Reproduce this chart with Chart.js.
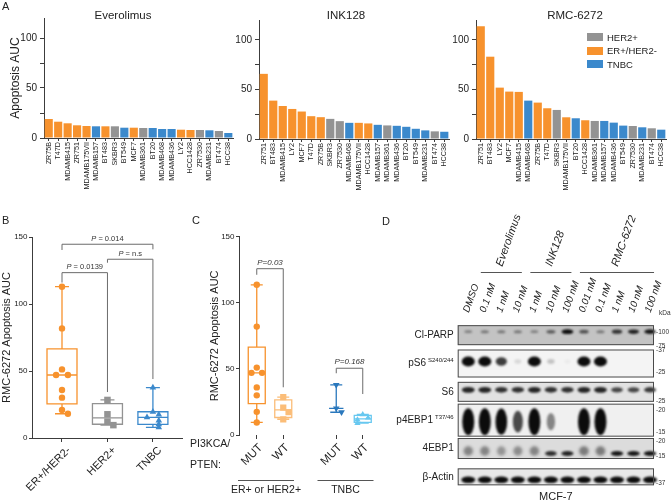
<!DOCTYPE html>
<html>
<head>
<meta charset="utf-8">
<script src="https://cdn.jsdelivr.net/npm/chart.js@4.4.1/dist/chart.umd.min.js"></script>
<style>
  body { margin: 0; background: #fff; }
  #page { position: relative; width: 671px; height: 504px; overflow: hidden; font-family: 'Liberation Sans', Arial, sans-serif; color: #222; }
  #page canvas { position: absolute; }
  .lbl { position: absolute; white-space: nowrap; line-height: 1; }
  .ctr { transform: translateX(-50%); }
  .key { position: absolute; width: 16px; height: 8px; }
</style>
</head>
<body>
<div id="page">
  <canvas id="everolimusChart" width="238" height="200" style="left:0;top:0"></canvas>
  <canvas id="ink128Chart" width="232" height="200" style="left:222px;top:0"></canvas>
  <canvas id="rmcChart" width="231" height="200" style="left:440px;top:0"></canvas>
  <canvas id="subtypeChart" width="190" height="279" style="left:0;top:225px"></canvas>
  <canvas id="mutationChart" width="195" height="279" style="left:190px;top:225px"></canvas>
  <canvas id="blotChart" width="291" height="299" style="left:380px;top:205px"></canvas>

  <div class="lbl" style="left:2px;top:1px;font-size:11px">A</div>
  <div class="lbl" style="left:2px;top:215px;font-size:11px">B</div>
  <div class="lbl" style="left:192px;top:215px;font-size:11px">C</div>
  <div class="lbl" style="left:382px;top:216px;font-size:11px">D</div>

  <div class="lbl ctr" style="left:123px;top:10px;font-size:11.5px">Everolimus</div>
  <div class="lbl ctr" style="left:346px;top:10px;font-size:11.5px">INK128</div>
  <div class="lbl ctr" style="left:575px;top:10px;font-size:11.5px">RMC-6272</div>

  <div class="lbl" style="left:190px;top:438px;font-size:10.5px">PI3KCA/</div>
  <div class="lbl" style="left:190px;top:459px;font-size:10.5px">PTEN:</div>
  <div id="legend"></div>
</div>

<script>
// cell line subtypes
const her2Lines = ['SKBR3', 'MDAMB361', 'ZR7530', 'BT474'];
const erLines = ['ZR75B', 'T47D', 'MDAMB415', 'ZR751', 'MDAMB175VII', 'BT483', 'MCF7', 'LY2', 'HCC1428'];
const tnbcLines = ['MDAMB157', 'BT549', 'BT20', 'MDAMB468', 'MDAMB436', 'MDAMB231', 'HCC38'];
const groupNames = ['HER2+', 'ER+/HER2-', 'TNBC'];
const groupColors = ['#939393', '#f7922d', '#3b89cc'];

// Panel A
const everoLabels = ['ZR75B', 'T47D', 'MDAMB415', 'ZR751', 'MDAMB175VII', 'MDAMB157', 'BT483', 'SKBR3', 'BT549', 'MCF7', 'MDAMB361', 'BT20', 'MDAMB468', 'MDAMB436', 'LY2', 'HCC1428', 'ZR7530', 'MDAMB231', 'BT474', 'HCC38'];
const everoValues = [19, 16.3, 14.7, 12.7, 12, 11.7, 11.7, 11.7, 10.3, 10.3, 10, 10, 9, 9, 8.3, 8, 8, 7.7, 7, 5];

const inkLabels = ['ZR751', 'BT483', 'MDAMB415', 'LY2', 'MCF7', 'T47D', 'ZR75B', 'SKBR3', 'ZR7530', 'MDAMB468', 'MDAMB175VII', 'HCC1428', 'MDAMB157', 'MDAMB361', 'MDAMB436', 'BT20', 'BT549', 'MDAMB231', 'BT474', 'HCC38'];
const inkValues = [65.7, 38.7, 33.3, 30.3, 27.7, 23, 22, 20.3, 18, 16.3, 16.3, 15.7, 14.3, 13.7, 13.3, 12.3, 10.3, 8.7, 7.7, 7.3];

const rmcLabels = ['ZR751', 'BT483', 'LY2', 'MCF7', 'MDAMB415', 'MDAMB468', 'ZR75B', 'T47D', 'SKBR3', 'MDAMB175VII', 'BT20', 'HCC1428', 'MDAMB361', 'MDAMB157', 'MDAMB436', 'BT549', 'ZR7530', 'MDAMB231', 'BT474', 'HCC38'];
const rmcValues = [113.8, 83, 51.8, 47.8, 47.5, 38.7, 36.7, 31, 29.3, 21.9, 20.9, 18.9, 18.2, 18.2, 16.5, 13.5, 13.1, 11.8, 10.8, 9.4];

// Panel B
const bCategories = ['ER+/HER2-', 'HER2+', 'TNBC'];
const bER = [112.9, 81.8, 51.2, 47, 47, 35.8, 30.1, 20.9, 18.1];
const bHER2 = [28.4, 17.7, 12.2, 9.6];
const bTNBC = [37.6, 19.6, 17.5, 15.4, 13, 10.2, 8];
const bPvalues = ['0.0139', 'n.s', '0.014'];

// Panel C
const cLabels = ['MUT', 'WT', 'MUT', 'WT'];
const cErMut = [113.6, 82, 51, 47, 47, 36, 30, 17.5, 9.5];
const cErWt = [28.6, 20.7, 17.2, 11.9];
const cTnMut = [37.9, 20.2, 17.2];
const cTnWt = [15.5, 13, 11.5, 9];
const cGroups = ['ER+ or HER2+', 'TNBC'];
const cPvalues = ['0.03', '0.168'];

// Panel D (band strength 0..1 per lane)
const laneLabels = ['DMSO', '0.1 nM', '1 nM', '10 nM', '1 nM', '10 nM', '100 nM', '0.01 nM', '0.1 nM', '1 nM', '10 nM', '100 nM'];
const drugGroups = ['Everolimus', 'INK128', 'RMC-6272'];
const drugLanes = [[2, 4], [5, 7], [8, 12]];
const blotRows = ['Cl-PARP', 'pS6', 'S6', 'p4EBP1', '4EBP1', 'β-Actin'];
const blotSup = ['', 'S240/244', '', 'T37/46', '', ''];
const bandClParp = [0.35, 0.4, 0.4, 0.4, 0.35, 0.55, 0.95, 0.6, 0.4, 0.75, 0.85, 0.9];
const bandPS6 = [1, 1, 0.75, 0.12, 1, 0.2, 0.04, 1, 1, 0, 0, 0];
const bandS6 = [0.85, 0.85, 0.8, 0.8, 0.85, 0.8, 0.8, 0.85, 0.85, 0.7, 0.7, 0.75];
const bandP4EBP1 = [1, 1, 0.95, 0.7, 1, 0.45, 0, 1, 1, 0, 0, 0];
const band4EBP1 = [0.5, 0.5, 0.4, 0.45, 0.5, 0.8, 0.85, 0.55, 0.55, 0.9, 0.9, 0.9];
const bandActin = [1, 1, 1, 1, 1, 1, 1, 1, 1, 1, 1, 1];
const kdaMarks = [['100', '75'], ['37', '25'], ['25'], ['20', '15'], ['20', '15'], ['37']];

const fam = "'Liberation Sans', Arial, sans-serif";
const axisColor = '#3c3c3c';
Chart.defaults.font.family = fam;
Chart.defaults.color = '#222';
Chart.defaults.animation = false;
Chart.defaults.responsive = false;
Chart.defaults.events = [];
Chart.defaults.plugins.legend.display = false;
Chart.defaults.plugins.tooltip.enabled = false;

function colorOf(line) {
    if (her2Lines.includes(line)) return groupColors[0];
    if (erLines.includes(line)) return groupColors[1];
    return groupColors[2];
}

// legend for panel A
const legend = document.getElementById('legend');
groupNames.forEach((name, i) => {
    const top = 33 + i * 13.5;
    legend.insertAdjacentHTML('beforeend',
        `<div class="key" style="left:587px;top:${top}px;background:${groupColors[i]}"></div>` +
        `<div class="lbl" style="left:607px;top:${top - 0.5}px;font-size:9.5px">${name}</div>`);
});

/* --- PANEL A: bar charts --- */
function drugChart(id, labels, values, opts) {
    return new Chart(document.getElementById(id), {
        type: 'bar',
        data: {
            labels: labels,
            datasets: [{ data: values, backgroundColor: labels.map(colorOf), barPercentage: 0.86, categoryPercentage: 1 }]
        },
        options: {
            layout: { padding: { top: opts.top, right: opts.right } },
            scales: {
                x: {
                    grid: { drawOnChartArea: false, offset: false, tickLength: 3, color: axisColor },
                    border: { color: axisColor },
                    ticks: { autoSkip: false, minRotation: 90, maxRotation: 90, padding: 1, font: { size: 7.2 } },
                    afterFit(scale) { scale.height = opts.xHeight; }
                },
                y: {
                    min: 0, max: 120,
                    grid: { drawOnChartArea: false, tickLength: 4, color: axisColor },
                    border: { color: axisColor },
                    ticks: { stepSize: 25, padding: 3, font: { size: 10 }, callback: v => (v % 50 === 0 ? v : '') },
                    afterBuildTicks(scale) { scale.ticks = scale.ticks.filter(t => t.value <= 100); },
                    title: { display: !!opts.yTitle, text: opts.yTitle, font: { size: 12 }, padding: { top: 8, bottom: 0 } },
                    afterFit(scale) { scale.width = opts.yWidth; }
                }
            }
        }
    });
}

drugChart('everolimusChart', everoLabels, everoValues, { top: 18, right: 2, xHeight: 62, yWidth: 44, yTitle: 'Apoptosis AUC' });
drugChart('ink128Chart', inkLabels, inkValues, { top: 20, right: 3, xHeight: 61, yWidth: 37 });
drugChart('rmcChart', rmcLabels, rmcValues, { top: 20, right: 4, xHeight: 61, yWidth: 36 });

/* --- PANELS B and C: box and whiskers --- */
function percentile(vals, p) {
    const s = [...vals].sort((a, b) => a - b);
    const pos = (s.length + 1) * p;
    const lo = Math.floor(pos);
    if (lo < 1) return s[0];
    if (lo >= s.length) return s[s.length - 1];
    return s[lo - 1] + (pos - lo) * (s[lo] - s[lo - 1]);
}

// spread points with close values sideways
function spread(vals, centre, step) {
    const placed = [];
    return vals.map(v => {
        const near = placed.filter(p => Math.abs(p - v) < 4.5).length;
        placed.push(v);
        const side = near % 2 ? 1 : -1;
        return { x: centre + (near ? side * Math.ceil(near / 2) * step : 0), y: v };
    });
}

function drawP(ctx, text, x, y, size, italicAll) {
    const rest = text.slice(1);
    ctx.font = `italic ${size}px ${fam}`;
    const wp = ctx.measureText('P').width;
    ctx.font = `${italicAll ? 'italic ' : ''}${size}px ${fam}`;
    const wr = ctx.measureText(rest).width;
    const x0 = x - (wp + wr) / 2;
    ctx.textAlign = 'left';
    ctx.textBaseline = 'bottom';
    ctx.fillStyle = '#333';
    ctx.font = `italic ${size}px ${fam}`;
    ctx.fillText('P', x0, y);
    ctx.font = `${italicAll ? 'italic ' : ''}${size}px ${fam}`;
    ctx.fillText(rest, x0 + wp, y);
}

const boxWhisker = {
    id: 'boxWhisker',
    beforeDatasetsDraw(chart, args, opts) {
        const { ctx } = chart;
        const x = chart.scales.x, y = chart.scales.y;
        ctx.save();
        ctx.lineWidth = opts.lineWidth;
        chart.data.datasets.forEach(ds => {
            const vals = ds.data.map(p => p.y);
            const cx = x.getPixelForValue(ds.groupPos);
            const lo = y.getPixelForValue(Math.min(...vals));
            const hi = y.getPixelForValue(Math.max(...vals));
            const q1 = y.getPixelForValue(percentile(vals, 0.25));
            const med = y.getPixelForValue(percentile(vals, 0.5));
            const q3 = y.getPixelForValue(percentile(vals, 0.75));
            ctx.strokeStyle = ds.groupColor;
            ctx.beginPath();
            if (vals.length > 3) {
                ctx.fillStyle = '#fff';
                ctx.fillRect(cx - opts.boxHalf, q3, opts.boxHalf * 2, q1 - q3);
                ctx.rect(cx - opts.boxHalf, q3, opts.boxHalf * 2, q1 - q3);
                ctx.moveTo(cx, q3); ctx.lineTo(cx, hi);
                ctx.moveTo(cx, q1); ctx.lineTo(cx, lo);
                ctx.moveTo(cx - opts.boxHalf, med); ctx.lineTo(cx + opts.boxHalf, med);
            } else {
                ctx.moveTo(cx, hi); ctx.lineTo(cx, lo);
                ctx.moveTo(cx - opts.capHalf * 1.2, med); ctx.lineTo(cx + opts.capHalf * 1.2, med);
            }
            ctx.moveTo(cx - opts.capHalf, hi); ctx.lineTo(cx + opts.capHalf, hi);
            ctx.moveTo(cx - opts.capHalf, lo); ctx.lineTo(cx + opts.capHalf, lo);
            ctx.stroke();
        });
        ctx.restore();
    },
    afterDatasetsDraw(chart, args, opts) {
        const { ctx } = chart;
        const x = chart.scales.x, y = chart.scales.y;
        ctx.save();
        ctx.strokeStyle = '#6b6b6b';
        ctx.lineWidth = 1;
        opts.brackets.forEach(b => {
            const x1 = x.getPixelForValue(b.from), x2 = x.getPixelForValue(b.to);
            const yy = y.getPixelForValue(b.at);
            ctx.beginPath();
            ctx.moveTo(x1, y.getPixelForValue(b.leftEnd));
            ctx.lineTo(x1, yy);
            ctx.lineTo(x2, yy);
            ctx.lineTo(x2, y.getPixelForValue(b.rightEnd));
            ctx.stroke();
            drawP(ctx, b.text, (x1 + x2) / 2, yy - 2, opts.pSize, opts.italicAll);
        });
        ctx.restore();
    }
};

function boxChart(id, cfg) {
    return new Chart(document.getElementById(id), {
        type: 'scatter',
        data: {
            datasets: cfg.groups.map(g => ({
                data: spread(g.values, g.pos, cfg.jitter),
                groupPos: g.pos,
                groupColor: g.color,
                pointStyle: g.shape,
                pointRadius: g.radius,
                pointRotation: g.rotation || 0,
                backgroundColor: g.color,
                borderColor: g.color,
                borderWidth: 0
            }))
        },
        options: {
            layout: { padding: cfg.padding },
            plugins: {
                boxWhisker: { boxHalf: cfg.boxHalf, capHalf: cfg.capHalf, lineWidth: 1.3, brackets: cfg.brackets, italicAll: cfg.italicAll, pSize: cfg.pSize }
            },
            scales: {
                x: {
                    type: 'linear', min: cfg.xMin, max: cfg.xMax,
                    border: { display: cfg.xBorder, color: axisColor },
                    grid: { drawOnChartArea: false, tickLength: 4, color: axisColor },
                    afterBuildTicks(scale) { scale.ticks = cfg.tickPos.map(value => ({ value })); },
                    ticks: { callback: v => cfg.tickLabels[cfg.tickPos.indexOf(v)], minRotation: 45, maxRotation: 45, labelOffset: cfg.labelShift, font: { size: cfg.xFont }, padding: 2 },
                    afterFit(scale) { scale.height = cfg.xHeight; }
                },
                y: {
                    min: 0, max: 150,
                    border: { color: axisColor },
                    grid: { drawOnChartArea: false, tickLength: 3, color: axisColor },
                    ticks: { stepSize: 50, font: { size: 8 }, padding: 1.5 },
                    title: { display: true, text: 'RMC-6272 Apoptosis AUC', font: { size: 11 }, padding: { top: cfg.titlePad, bottom: 0 } },
                    afterFit(scale) { scale.width = cfg.yWidth; }
                }
            }
        },
        plugins: [boxWhisker].concat(cfg.extra || [])
    });
}

boxChart('subtypeChart', {
    padding: { top: 12, right: 8, left: 0, bottom: 0 },
    yWidth: 32, xHeight: 66, xMin: 0.34, xMax: 3.64, xBorder: true, xFont: 11, titlePad: 0, labelShift: 7,
    tickPos: [1, 2, 3], tickLabels: bCategories,
    boxHalf: 15, capHalf: 7, jitter: 0.13, pSize: 7.5, italicAll: false,
    groups: [
        { values: bER, pos: 1, color: groupColors[1], shape: 'circle', radius: 3.2 },
        { values: bHER2, pos: 2, color: groupColors[0], shape: 'rect', radius: 4.6 },
        { values: bTNBC, pos: 3, color: groupColors[2], shape: 'triangle', radius: 3.8 }
    ],
    brackets: [
        { from: 1, to: 2, at: 123.4, leftEnd: 116, rightEnd: 34.3, text: 'P = ' + bPvalues[0] },
        { from: 2, to: 3, at: 133.4, leftEnd: 130.8, rightEnd: 44, text: 'P = ' + bPvalues[1] },
        { from: 1, to: 3, at: 144.6, leftEnd: 140.3, rightEnd: 140.8, text: 'P = ' + bPvalues[2] }
    ]
});

// group underlines for panel C
const cGroupLabels = {
    id: 'cGroupLabels',
    afterDraw(chart) {
        const { ctx } = chart;
        const x = chart.scales.x;
        ctx.save();
        ctx.strokeStyle = '#555';
        ctx.lineWidth = 1;
        ctx.fillStyle = '#222';
        ctx.font = `10.5px ${fam}`;
        ctx.textAlign = 'center';
        ctx.textBaseline = 'top';
        [[1, 2], [4, 5]].forEach((span, g) => {
            const cx = (x.getPixelForValue(span[0]) + x.getPixelForValue(span[1])) / 2 - 4;
            ctx.beginPath();
            ctx.moveTo(cx - 28, 255.5);
            ctx.lineTo(cx + 28, 255.5);
            ctx.stroke();
            ctx.fillText(cGroups[g], cx, 260);
        });
        ctx.restore();
    }
};

boxChart('mutationChart', {
    padding: { top: 11.7, right: 9, left: 15, bottom: 0 },
    yWidth: 34, xHeight: 69, xMin: 0.33, xMax: 5.5, xBorder: false, xFont: 11.5, titlePad: 3.5, labelShift: 4,
    tickPos: [1, 2, 4, 5], tickLabels: cLabels,
    boxHalf: 8.5, capHalf: 6, jitter: 0.2, pSize: 8, italicAll: true,
    groups: [
        { values: cErMut, pos: 1, color: '#f7922d', shape: 'circle', radius: 3.2 },
        { values: cErWt, pos: 2, color: '#fbbd78', shape: 'rect', radius: 4.4 },
        { values: cTnMut, pos: 4, color: '#2a78bd', shape: 'triangle', radius: 3.8, rotation: 180 },
        { values: cTnWt, pos: 5, color: '#68c8f0', shape: 'triangle', radius: 3.6 }
    ],
    brackets: [
        { from: 1, to: 2, at: 125.8, leftEnd: 121.2, rightEnd: 36.1, text: 'P=' + cPvalues[0] },
        { from: 4, to: 5, at: 50.5, leftEnd: 46.7, rightEnd: 31, text: 'P=' + cPvalues[1] }
    ],
    extra: [cGroupLabels]
});

/* --- PANEL D: immunoblot --- */
const bandLevels = [bandClParp, bandPS6, bandS6, bandP4EBP1, band4EBP1, bandActin];
const rowLayout = [
    { half: 10, bg: '#c3c3c3', dy: -3.5, w: 12, h: 5 },
    { half: 14, bg: '#f4f4f4', dy: -2, w: 13, h: 10 },
    { half: 10, bg: '#e2e2e2', dy: -2, w: 14, h: 6.5 },
    { half: 16.5, bg: '#f0f0f0', dy: 1.5, w: 12, h: 27 },
    { half: 10.5, bg: '#dcdcdc', dy: 5, w: 13, h: 5.5, diffuse: true },
    { half: 8.5, bg: '#e8e8e8', dy: 3, w: 14, h: 6.5 }
];
const markFrac = [[0.33, 1.03], [0.04, 0.82], [0.95], [0.21, 0.85], [0.14, 0.86], [0.88]];

function drawBand(ctx, x, y, st, level) {
    if (level <= 0) return;
    let w = st.w * (0.45 + 0.55 * level);
    let h = st.h * (0.35 + 0.65 * level);
    let dy = st.dy;
    let alpha = Math.min(1, level * 1.05);
    let blur = 0.8;
    if (st.diffuse && level < 0.7) { h = st.h * 1.7; dy = st.dy - 2.5; alpha = level * 0.85; blur = 1.4; }
    ctx.save();
    ctx.filter = `blur(${blur}px)`;
    ctx.fillStyle = 'rgba(12,12,12,' + alpha + ')';
    ctx.beginPath();
    ctx.ellipse(x, y + dy, w / 2, h / 2, 0, 0, Math.PI * 2);
    ctx.fill();
    ctx.restore();
}

const blotPlugin = {
    id: 'blot',
    afterDatasetsDraw(chart) {
        const { ctx, chartArea: a } = chart;
        const xs = chart.scales.x;
        ctx.save();
        blotRows.forEach((row, r) => {
            const st = rowLayout[r];
            const pts = chart.getDatasetMeta(r).data;
            const cy = pts[0].y;
            const top = cy - st.half, h = st.half * 2;
            ctx.fillStyle = st.bg;
            ctx.fillRect(a.left, top, a.right - a.left, h);
            pts.forEach((pt, i) => drawBand(ctx, pt.x, cy, st, chart.data.datasets[r].data[i].level));
            ctx.strokeStyle = '#4a4a4a';
            ctx.lineWidth = 1;
            ctx.strokeRect(a.left + 0.5, top + 0.5, a.right - a.left - 1, h - 1);

            // row name with superscript
            ctx.fillStyle = '#222';
            ctx.textBaseline = 'middle';
            ctx.textAlign = 'right';
            let right = a.left - 4;
            if (blotSup[r]) {
                ctx.font = `6px ${fam}`;
                ctx.fillText(blotSup[r], right, cy - 3);
                right -= ctx.measureText(blotSup[r]).width + 2;
            }
            ctx.font = `10px ${fam}`;
            ctx.fillText(row, right, cy);

            // size markers
            ctx.font = `6.5px ${fam}`;
            ctx.fillStyle = '#333';
            ctx.textAlign = 'left';
            kdaMarks[r].forEach((m, k) => ctx.fillText('-' + m, a.right + 2, top + h * markFrac[r][k]));
        });

        ctx.font = `6.5px ${fam}`;
        ctx.fillText('kDa', a.right + 5, a.top - 8);

        // lane labels
        ctx.fillStyle = '#222';
        ctx.font = `italic 9.8px ${fam}`;
        ctx.textAlign = 'left';
        ctx.textBaseline = 'middle';
        laneLabels.forEach((lab, i) => {
            ctx.save();
            ctx.translate(xs.getPixelForValue(i + 1) - 2, a.top - 9);
            ctx.rotate(-70 * Math.PI / 180);
            ctx.fillText(lab, 0, 0);
            ctx.restore();
        });

        // drug groups
        const lineY = a.top - 49;
        ctx.strokeStyle = '#555';
        ctx.font = `italic 11px ${fam}`;
        drugGroups.forEach((name, g) => {
            const x1 = xs.getPixelForValue(drugLanes[g][0]) - 4;
            const x2 = xs.getPixelForValue(drugLanes[g][1]) + 4;
            ctx.beginPath();
            ctx.moveTo(x1, lineY + 0.5);
            ctx.lineTo(x2, lineY + 0.5);
            ctx.stroke();
            ctx.save();
            ctx.translate((x1 + x2) / 2 - 2, lineY - 6);
            ctx.rotate(-70 * Math.PI / 180);
            ctx.fillText(name, 0, 0);
            ctx.restore();
        });

        ctx.font = `11px ${fam}`;
        ctx.textAlign = 'center';
        ctx.fillText('MCF-7', (a.left + a.right) / 2, a.bottom + 6);
        ctx.restore();
    }
};

new Chart(document.getElementById('blotChart'), {
    type: 'scatter',
    data: {
        datasets: blotRows.map((row, r) => ({
            data: bandLevels[r].map((v, i) => ({ x: i + 1, y: row, level: v })),
            pointRadius: 0
        }))
    },
    options: {
        layout: { padding: { left: 77.7, right: 17, top: 116, bottom: 13 } },
        scales: {
            x: { type: 'linear', display: false, min: 0.36, max: 12.24 },
            y: { type: 'category', labels: blotRows, display: false, offset: true }
        }
    },
    plugins: [blotPlugin]
});
</script>
</body>
</html>
